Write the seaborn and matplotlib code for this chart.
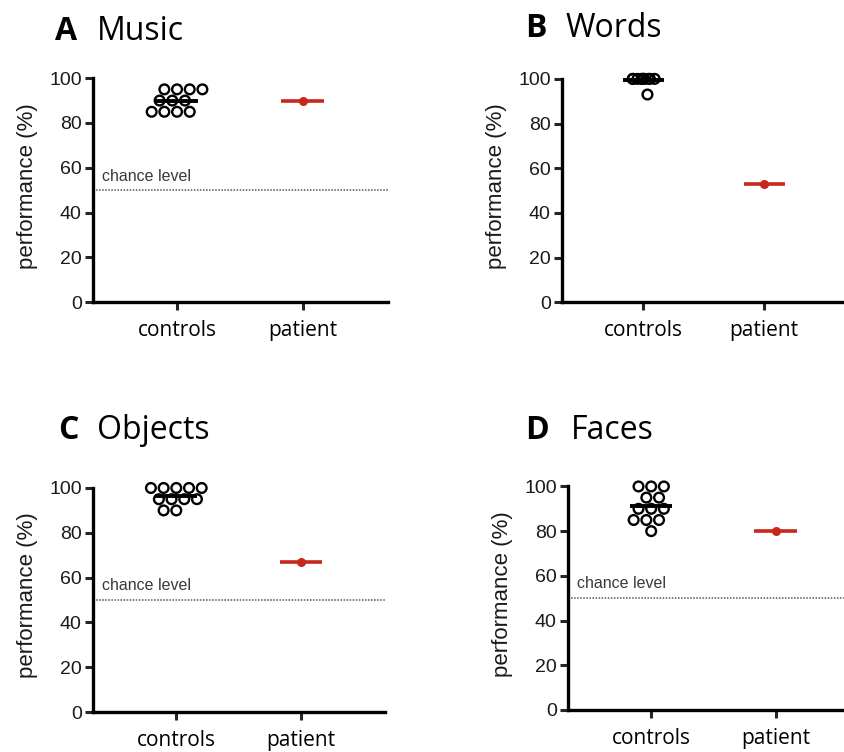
import numpy as np
import pandas as pd
import matplotlib
matplotlib.use("Agg")
import matplotlib.pyplot as plt
import seaborn as sns

# Scores (performance in %)
groups = ["controls", "patient"]
music_controls = [95, 95, 95, 95, 90, 90, 90, 85, 85, 85, 85]
music_patient = 90
words_controls = [100, 100, 100, 100, 100, 100, 100, 100, 100, 100, 93]
words_patient = 53
objects_controls = [100, 100, 100, 100, 100, 95, 95, 95, 95, 90, 90]
objects_patient = 67
faces_controls = [100, 100, 100, 95, 95, 90, 90, 90, 85, 85, 85, 80]
faces_patient = 80
chance_level = 50

panels = [
    ("A", "Music", music_controls, music_patient, True),
    ("B", "Words", words_controls, words_patient, False),
    ("C", "Objects", objects_controls, objects_patient, True),
    ("D", "Faces", faces_controls, faces_patient, True),
]

sns.set_style("ticks")
plt.rcParams["font.family"] = ["Liberation Sans", "DejaVu Sans"]
plt.rcParams["text.color"] = "black"

red = "#c8281c"
fig = plt.figure(figsize=(8.45, 7.52), dpi=100)

# axes boxes in figure fractions [left, bottom, width, height], y up to 104
boxes = [
    [0.110, 0.598, 0.349, 0.310],
    [0.665, 0.598, 0.337, 0.309],
    [0.110, 0.053, 0.346, 0.310],
    [0.672, 0.056, 0.346, 0.309],
]
title_pos = [(0.065, 0.947, 0.115), (0.621, 0.951, 0.669),
             (0.069, 0.416, 0.115), (0.621, 0.416, 0.675)]

np.random.seed(7)
for (letter, name, ctrl, pat, chance), box, tpos in zip(panels, boxes, title_pos):
    ax = fig.add_axes(box)
    df = pd.DataFrame({"group": ["controls"] * len(ctrl) + ["patient"],
                       "score": list(ctrl) + [pat]})
    cdf = df[df.group == "controls"]
    pdf = df[df.group == "patient"]
    if letter == "B":
        sns.stripplot(data=cdf, x="group", y="score", order=groups, ax=ax,
                      jitter=0.1, size=7, color="black", facecolor="none",
                      edgecolor="black", linewidth=1.7, zorder=3)
    else:
        sns.swarmplot(data=cdf, x="group", y="score", order=groups, ax=ax,
                      size=7, color="black", facecolor="none",
                      edgecolor="black", linewidth=1.7, zorder=3)
    for coll in ax.collections:
        coll.set_facecolor("none")
    # group mean line
    ax.hlines(np.mean(ctrl), -0.17, 0.17, color="black", lw=2.8, zorder=4)
    # patient score
    ax.hlines(pat, 1 - 0.17, 1 + 0.17, color=red, lw=2.6, zorder=4)
    sns.stripplot(data=pdf, x="group", y="score", order=groups, ax=ax,
                  jitter=False, size=6.5, color=red, zorder=5)

    if chance:
        ax.axhline(chance_level, color="#555555", lw=1.1, ls=(0, (1, 1)), zorder=1)
        ax.text(-0.6, chance_level + 3, "chance level", fontsize=11.5,
                color="#3a3a3a", va="bottom", ha="left")

    ax.set_xlim(-0.67, 1.68)
    ax.set_ylim(0, 104)
    ax.set_yticks([0, 20, 40, 60, 80, 100])
    ax.set_xlabel("")
    ax.set_ylabel("performance (%)", fontsize=16, color="#1a1a1a", labelpad=8)
    ax.tick_params(axis="y", labelsize=14, length=6, width=2.2, pad=2,
                   labelcolor="#1a1a1a")
    ax.tick_params(axis="x", length=6, width=2.2, pad=7, labelcolor="black")
    for lab in ax.get_xticklabels():
        lab.set_fontfamily("Open Sans")
        lab.set_fontsize(15)
    sns.despine(ax=ax)
    ax.spines["left"].set_bounds(0, 100)
    for s in ["left", "bottom"]:
        ax.spines[s].set_linewidth(2.4)
        ax.spines[s].set_color("black")
    ax.set_facecolor("none")

    fig.text(tpos[0], tpos[1], letter, fontsize=23, fontweight="bold",
             family="Open Sans", va="baseline", color="black")
    fig.text(tpos[2], tpos[1], name, fontsize=23, family="Open Sans",
             va="baseline", color="black")

fig.savefig("out.png", dpi=100)
